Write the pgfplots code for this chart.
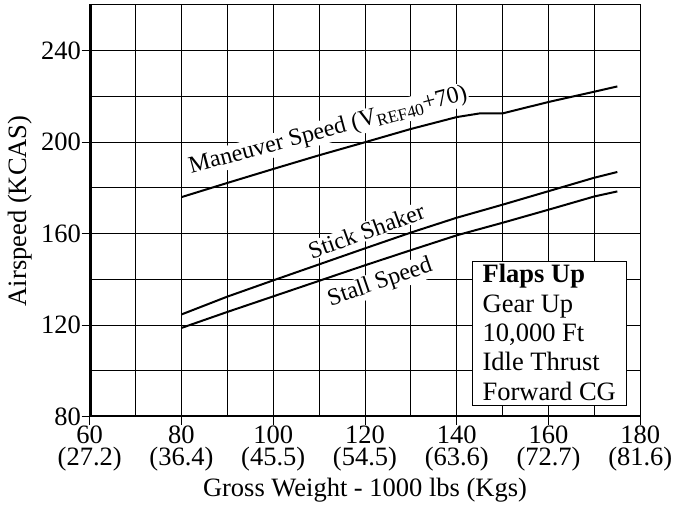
\documentclass[border=0pt]{standalone}
\usepackage{pgfplots}
\pgfplotsset{compat=1.18}
\usepackage{fontspec}
\setmainfont{Liberation Serif}

\pgfplotstableread{
x y
80 176.0
90 182.2
100 188.3
110 194.3
120 200.0
130 205.8
140 211.0
145 212.6
150 212.6
160 217.6
170 222.1
175 224.4
}\maneuver

\pgfplotstableread{
x y
80 124.7
90 132.5
100 139.6
110 146.6
120 153.6
130 160.5
140 167.0
150 172.7
160 178.6
170 184.5
175 187.0
}\shaker

\pgfplotstableread{
x y
80 118.8
90 125.8
100 132.6
110 139.4
120 146.2
130 152.8
140 159.3
150 164.8
160 170.5
170 176.3
175 178.5
}\stall

\begin{document}
\begin{tikzpicture}
\begin{axis}[
  at={(0,0)}, anchor=south west,
  width=550.6pt, height=411.7pt, scale only axis,
  xmin=60, xmax=180, ymin=80, ymax=260,
  xtick={60,80,...,180},
  xticklabels={{60\\(27.2)},{80\\(36.4)},{100\\(45.5)},{120\\(54.5)},{140\\(63.6)},{160\\(72.7)},{180\\(81.6)}},
  minor xtick={70,90,110,130,150,170},
  ytick={80,120,160,200,240},
  yticklabels={80,120,160,200,240},
  minor ytick={100,140,180,220},
  xtick pos=bottom, ytick pos=left,
  tick align=outside,
  major tick length=8pt, minor tick length=0pt,
  tick style={black, line width=1pt},
  grid=both,
  major grid style={black, line width=1pt},
  minor grid style={black, line width=1pt},
  axis line style={black, line width=1pt},
  xticklabel style={font=\fontsize{26.5}{22}\selectfont, align=center, inner sep=1pt},
  yticklabel style={font=\fontsize{26.5}{26}\selectfont, inner sep=0.5pt},
  xlabel={Gross Weight - 1000 lbs (Kgs)},
  ylabel={Airspeed (KCAS)},
  xlabel style={font=\fontsize{26.5}{26}\selectfont, at={(axis description cs:0.5,0)}, anchor=base, yshift=-80pt},
  ylabel style={font=\fontsize{26.5}{26}\selectfont, at={(axis description cs:-0.127,0.5)}, anchor=center},
]
\addplot[black, line width=2pt] table[x=x,y=y] {\maneuver};
\addplot[black, line width=2pt] table[x=x,y=y] {\shaker};
\addplot[black, line width=2pt] table[x=x,y=y] {\stall};

\draw[line width=4pt] (rel axis cs:0,1) -- (rel axis cs:0,0) -- (rel axis cs:1,0);

\node[rotate=15, anchor=base west, fill=white, inner sep=1pt, font=\fontsize{24}{26}\selectfont]
  at (axis cs:81.85,186.2) {Maneuver Speed (V\raisebox{-0.3ex}{\fontsize{17}{18}\selectfont REF40}+70)};
\node[rotate=20, fill=white, inner sep=1pt, font=\fontsize{24}{26}\selectfont]
  at (axis cs:120.3,161.2) {Stick Shaker};
\node[rotate=19, fill=white, inner sep=1pt, font=\fontsize{24}{26}\selectfont]
  at (axis cs:123.3,138.5) {Stall Speed};

\draw[line width=1pt, fill=white] (axis cs:143.4,84.7) rectangle (axis cs:177.1,147.7);
\node[anchor=north west, inner sep=0pt, align=left, font=\fontsize{26.5}{29.3}\selectfont]
  at (axis cs:145.6,146.6) {\textbf{Flaps Up}\\Gear Up\\10,000 Ft\\Idle Thrust\\Forward CG};
\end{axis}
\pgfresetboundingbox
\path[use as bounding box] (-89.7pt,-88.3pt) rectangle (583.3pt,416.7pt);
\end{tikzpicture}
\end{document}
